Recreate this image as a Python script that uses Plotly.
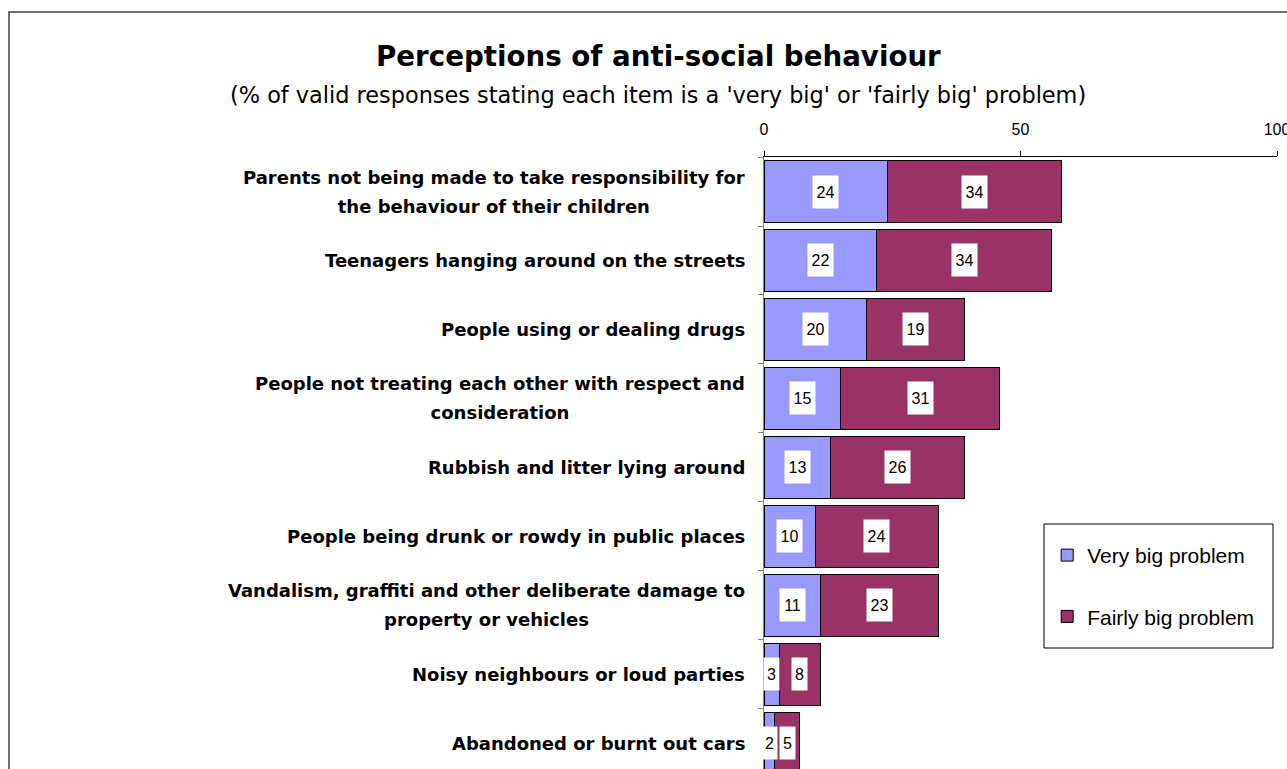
import plotly.graph_objects as go

# Survey items, top to bottom
categories = [
    "Parents not being made to take responsibility for<br>the behaviour of their children",
    "Teenagers hanging around on the streets",
    "People using or dealing drugs",
    "People not treating each other with respect and<br>consideration",
    "Rubbish and litter lying around",
    "People being drunk or rowdy in public places",
    "Vandalism, graffiti and other deliberate damage to<br>property or vehicles",
    "Noisy neighbours or loud parties",
    "Abandoned or burnt out cars",
]
very_big = [24, 22, 20, 15, 13, 10, 11, 3, 2]
fairly_big = [34, 34, 19, 31, 26, 24, 23, 8, 5]
series_names = ["Very big problem", "Fairly big problem"]
x_ticks = [0, 50, 100]

COL_VERY = "#9999FF"
COL_FAIRLY = "#993366"
TEXT_FONT = "DejaVu Sans"
NUM_FONT = "Liberation Sans"

fig = go.Figure()
fig.add_trace(go.Bar(
    y=categories, x=very_big, orientation="h", name=series_names[0],
    legendgroup="g1",
    marker=dict(color=COL_VERY, line=dict(color="black", width=1)),
))
fig.add_trace(go.Bar(
    y=categories, x=fairly_big, orientation="h", name=series_names[1],
    legendgroup="g2",
    marker=dict(color=COL_FAIRLY, line=dict(color="black", width=1)),
))

annotations = []

# Value labels in white boxes at the centre of each segment
for cat, v1, v2 in zip(categories, very_big, fairly_big):
    for val, mid in ((v1, v1 / 2), (v2, v1 + v2 / 2)):
        txt = str(val)
        annotations.append(dict(
            x=mid, y=cat, xref="x", yref="y", text=txt, showarrow=False,
            bgcolor="white", borderpad=0, width=10 * len(txt) + 5, height=32,
            font=dict(family=NUM_FONT, size=16, color="black"),
        ))

# Category labels: right-aligned block, lines centred, wide line spacing
for cat in categories:
    lines = cat.split("<br>")
    body = "<br>".join(f"<span style='font-size:18px'>{ln}</span>" for ln in lines)
    annotations.append(dict(
        x=0, y=cat, xref="paper", yref="y", xanchor="right", yanchor="middle",
        xshift=-17, text=f"<b>{body}</b>", showarrow=False,
        align="center",
        font=dict(family=TEXT_FONT, size=22.3, color="black"),
    ))

# Title and subtitle
annotations.append(dict(
    x=-0.2066, y=1.1634, xref="paper", yref="paper", xanchor="center",
    yanchor="middle", showarrow=False,
    text="<b>Perceptions of anti-social behaviour</b>",
    font=dict(family=TEXT_FONT, size=27.7, color="black"),
))
annotations.append(dict(
    x=-0.2066, y=1.1013, xref="paper", yref="paper", xanchor="center",
    yanchor="middle", showarrow=False,
    text="(% of valid responses stating each item is a 'very big' or 'fairly big' problem)",
    font=dict(family=TEXT_FONT, size=22.4, color="black"),
))

shapes = [
    # outer chart frame
    dict(type="rect", xref="paper", yref="paper",
         x0=-1.4717, x1=1.05, y0=-0.05, y1=1.2369,
         line=dict(color="#404040", width=1.5), fillcolor="rgba(0,0,0,0)",
         layer="above"),
    # legend frame
    dict(type="rect", xref="paper", yref="paper",
         x0=0.5458, x1=0.9922, y0=0.1977, y1=0.4003,
         line=dict(color="black", width=1), fillcolor="white", layer="below"),
]

fig.update_layout(
    width=1287, height=769,
    margin=dict(l=764, r=10, t=157, b=0),
    paper_bgcolor="white", plot_bgcolor="white",
    barmode="stack", bargap=0.1,
    annotations=annotations, shapes=shapes,
    legend=dict(
        x=0.552, y=0.3824, xanchor="left", yanchor="top",
        traceorder="grouped", tracegroupgap=31,
        bgcolor="rgba(0,0,0,0)", borderwidth=0,
        font=dict(family=NUM_FONT, size=21, color="black"),
    ),
    xaxis=dict(
        side="top", range=[0, 100], tickvals=x_ticks,
        ticks="outside", ticklen=5, tickcolor="black",
        showline=True, linecolor="black", linewidth=1,
        showgrid=False, zeroline=False, automargin=False,
        ticklabelstandoff=10, ticklabeloverflow="allow",
        tickfont=dict(family=NUM_FONT, size=16, color="black"),
    ),
    yaxis=dict(
        type="category", range=[8.37, -0.5],
        showticklabels=False, ticks="outside", tickson="boundaries",
        ticklen=5, tickcolor="#808080",
        showline=True, linecolor="#808080", linewidth=1,
        showgrid=False, zeroline=False, automargin=False,
    ),
)

fig.write_html("out.html")
